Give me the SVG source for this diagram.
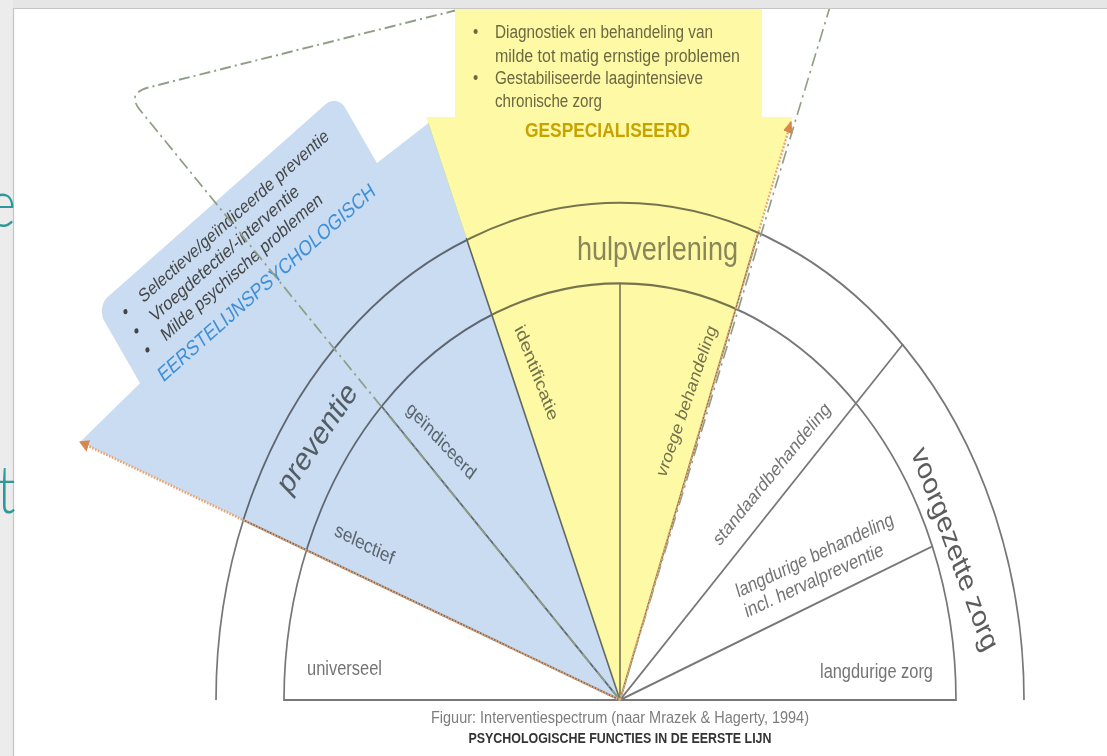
<svg xmlns="http://www.w3.org/2000/svg" width="1107" height="756" viewBox="0 0 1107 756">
<style>
text{font-family:"Liberation Sans",Arial,sans-serif}
.ring{fill:none;stroke:#777;stroke-width:1.7}
.div{stroke:#777;stroke-width:1.6;fill:none}
.lbl{fill:#747474;font-size:16px;text-anchor:middle}
.big{fill:#6a6a6a;font-size:27px;text-anchor:middle}
.bx{fill:#454545;font-size:15.4px}
.yb{fill:#6b6842;font-size:15px}
.dash{fill:none;stroke:#8f9f86;stroke-width:1.6;stroke-dasharray:11 4 2 4}
.orange{fill:none;stroke:#eba570;stroke-width:2.2;stroke-dasharray:1.6 1.4}
.mult{mix-blend-mode:multiply}
.teal{fill:#2e9a98;font-family:Lato,"Liberation Sans",sans-serif;font-weight:300;font-size:54px}
</style>
<defs>
<marker id="arrO" viewBox="0 0 10 10" refX="9" refY="5" markerWidth="4.5" markerHeight="4.5" orient="auto" markerUnits="strokeWidth"><path d="M0,0 L10,5 L0,10 z" fill="#d8874c"/></marker>
</defs>
<rect width="1107" height="756" fill="#fff"/>
<g transform="scale(1,1.24)">
 <g id="fan">
  <path class="ring" d="M216,564.5 A404,401 0 0 1 1024,564.5"/>
  <path class="ring" d="M284,564.5 A336,336 0 0 1 956,564.5 Z"/>
  <g class="div">
   <line x1="620" y1="564.5" x2="243.4" y2="419.4"/>
   <line x1="620" y1="564.5" x2="381.7" y2="327.7"/>
   <line x1="620" y1="564.5" x2="466.3" y2="192"/>
   <line x1="620" y1="564.5" x2="620" y2="228.5"/>
   <line x1="620" y1="564.5" x2="758.8" y2="186.2"/>
   <line x1="620" y1="564.5" x2="903" y2="277.5"/>
   <line x1="620" y1="564.5" x2="932.3" y2="440.6"/>
  </g>
 </g>
 <g id="sector-labels">
  <text class="big" transform="translate(323.6,358.8) rotate(-50)" textLength="108" lengthAdjust="spacingAndGlyphs">preventie</text>
  <text class="big" x="657.5" y="209.7" style="fill:#8a8a8a" textLength="161" lengthAdjust="spacingAndGlyphs">hulpverlening</text>
  <text class="big" transform="translate(947.5,446.2) rotate(65.6)" style="font-size:26px;fill:#5c5c5c" textLength="177" lengthAdjust="spacingAndGlyphs">voorgezette zorg</text>
  <text class="lbl" transform="translate(438,359.4) rotate(41)" textLength="86" lengthAdjust="spacingAndGlyphs">geïndiceerd</text>
  <text class="lbl" transform="translate(362.6,443.5) rotate(22.5)" textLength="63" lengthAdjust="spacingAndGlyphs">selectief</text>
  <text class="lbl" transform="translate(531.9,302.9) rotate(65)" textLength="83" lengthAdjust="spacingAndGlyphs">identificatie</text>
  <text class="lbl" transform="translate(691.2,325.5) rotate(-66.9)" textLength="131" lengthAdjust="spacingAndGlyphs">vroege behandeling</text>
  <text class="lbl" transform="translate(775.3,385.9) rotate(-44.6)" textLength="157" lengthAdjust="spacingAndGlyphs">standaardbehandeling</text>
  <text class="lbl" transform="translate(816.4,452.6) rotate(-20.7)" textLength="167" lengthAdjust="spacingAndGlyphs">langdurige behandeling</text>
  <text class="lbl" transform="translate(815.6,472.8) rotate(-20.2)" textLength="147" lengthAdjust="spacingAndGlyphs">incl. hervalpreventie</text>
  <text class="lbl" x="876.5" y="547" textLength="113" lengthAdjust="spacingAndGlyphs">langdurige zorg</text>
  <text class="lbl" x="344.5" y="544.4" textLength="75" lengthAdjust="spacingAndGlyphs">universeel</text>
 </g>
 <g id="eerstelijns-area" class="mult" fill="#c9dcf1">
  <polygon points="620,564.5 80,356.5 140,309 377,131.5 428.5,99.2"/>
  <rect transform="translate(96.3,247.7) rotate(-35.5)" x="0" y="0" width="296" height="170" rx="14"/>
 </g>
 <g id="gespecialiseerd-area" class="mult" fill="#fdf9a5">
  <polygon points="455,0 762,0 762,94.4 792.5,94.4 620,564.5 426,94.4 455,94.4"/>
 </g>
 <g id="node-eerstelijnspsychologisch" transform="translate(96.3,247.7) rotate(-35.5)">
  <text class="bx" x="19" y="25">•</text>
  <text class="bx" x="19" y="44">•</text>
  <text class="bx" x="19" y="63">•</text>
  <text class="bx" x="40" y="25" textLength="229" lengthAdjust="spacingAndGlyphs">Selectieve/geïndiceerde preventie</text>
  <text class="bx" x="40" y="44" textLength="179" lengthAdjust="spacingAndGlyphs">Vroegdetectie/-interventie</text>
  <text class="bx" x="40" y="63" textLength="194" lengthAdjust="spacingAndGlyphs">Milde psychische problemen</text>
  <text x="19" y="88.5" style="fill:#3f8fd8;font-size:17.5px" textLength="262" lengthAdjust="spacingAndGlyphs">EERSTELIJNSPSYCHOLOGISCH</text>
 </g>
 <g id="node-gespecialiseerd">
  <text class="yb" x="473" y="31">•</text>
  <text class="yb" x="495" y="31" textLength="218" lengthAdjust="spacingAndGlyphs">Diagnostiek en behandeling van</text>
  <text class="yb" x="495" y="49.8" textLength="245" lengthAdjust="spacingAndGlyphs">milde tot matig ernstige problemen</text>
  <text class="yb" x="473" y="68">•</text>
  <text class="yb" x="495" y="68" textLength="208" lengthAdjust="spacingAndGlyphs">Gestabiliseerde laagintensieve</text>
  <text class="yb" x="495" y="86" textLength="107" lengthAdjust="spacingAndGlyphs">chronische zorg</text>
  <text x="607.5" y="110.7" style="fill:#c8a300;font-size:17px;font-weight:bold;text-anchor:middle" textLength="165" lengthAdjust="spacingAndGlyphs">GESPECIALISEERD</text>
 </g>
 <g id="connectors">
  <path class="dash" d="M620,564.5 L140,88.7 Q126,75 150,70.2 L455,8.5"/>
  <path class="dash" d="M620,564.5 L832,0"/>
  <path class="orange" d="M620,564.5 L80,356.5" marker-end="url(#arrO)"/>
  <path class="orange" d="M620,564.5 L791,98.4" marker-end="url(#arrO)"/>
 </g>
 <g id="caption">
  <text x="620" y="583.3" style="fill:#7d7d7d;font-size:14px;text-anchor:middle" textLength="378" lengthAdjust="spacingAndGlyphs">Figuur: Interventiespectrum (naar Mrazek &amp; Hagerty, 1994)</text>
  <text x="620" y="599.4" style="fill:#333;font-size:12.5px;font-weight:bold;text-anchor:middle" textLength="303" lengthAdjust="spacingAndGlyphs">PSYCHOLOGISCHE FUNCTIES IN DE EERSTE LIJN</text>
 </g>
</g>
<g id="frame">
 <rect x="0" y="0" width="1107" height="8" fill="#e6e6e6"/>
 <line x1="13" y1="8.5" x2="1107" y2="8.5" stroke="#c6c6c6" stroke-width="1.2"/>
 <rect x="0" y="0" width="13" height="756" fill="#ececec"/>
 <line x1="13.5" y1="8" x2="13.5" y2="756" stroke="#c4c4c4" stroke-width="1.2"/>
</g>
<g id="background-text" transform="scale(1,1.24)">
 <text class="teal" x="16" y="183" text-anchor="end">e</text>
 <text class="teal" x="-3" y="413.7">t</text>
</g>
</svg>
